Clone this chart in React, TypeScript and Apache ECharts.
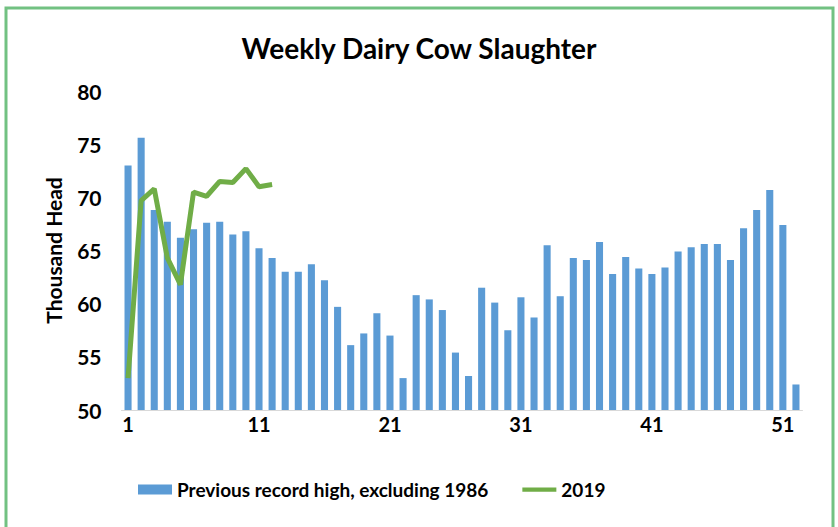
import React, { useEffect, useRef } from "react";
import * as echarts from "echarts";

const weeks: string[] = Array.from({ length: 52 }, (_, i) => String(i + 1));

const previousRecord: number[] = [
  73.0, 75.6, 68.8, 67.7, 66.2, 67.0, 67.6, 67.7, 66.5, 66.8,
  65.2, 64.3, 63.0, 63.0, 63.7, 62.2, 59.7, 56.1, 57.2, 59.1,
  57.0, 53.0, 60.8, 60.4, 59.4, 55.4, 53.2, 61.5, 60.1, 57.5,
  60.6, 58.7, 65.5, 60.7, 64.3, 64.1, 65.8, 62.8, 64.4, 63.3,
  62.8, 63.4, 64.9, 65.3, 65.6, 65.6, 64.1, 67.1, 68.8, 70.7,
  67.4, 52.4,
];

const y2019: number[] = [
  53.0, 69.7, 70.8, 64.3, 61.8, 70.5, 70.1, 71.5, 71.4, 72.7, 71.0, 71.2,
];

const yTicks = { min: 50, max: 80, interval: 5 };

const FONT = "Lato, 'Open Sans', sans-serif";

export default function App() {
  const ref = useRef<HTMLDivElement>(null);

  useEffect(() => {
    if (!ref.current) return;
    const chart = echarts.init(ref.current, undefined, { renderer: "svg" });
    chart.setOption({
      animation: false,
      backgroundColor: "#ffffff",
      title: {
        text: "Weekly Dairy Cow Slaughter",
        left: "center",
        top: 29,
        textStyle: {
          fontFamily: FONT,
          fontSize: 28,
          fontWeight: "bold",
          color: "#000000",
        },
      },
      grid: {
        left: 121.5,
        right: 35.5,
        top: 91,
        bottom: 117,
      },
      legend: {
        bottom: 23,
        left: 133,
        itemWidth: 34,
        itemHeight: 10,
        itemGap: 34,
        textStyle: {
          fontFamily: FONT,
          fontSize: 19,
          fontWeight: "bold",
          color: "#000000",
        },
        data: [
          { name: "Previous record high, excluding 1986", icon: "rect" },
          {
            name: "2019",
            icon: "path://M0,0H40V5H0Z",
            itemStyle: { color: "#70AD47" },
          },
        ],
      },
      xAxis: {
        type: "category",
        data: weeks,
        boundaryGap: true,
        axisLine: { show: true, lineStyle: { color: "#d9d9d9", width: 1 } },
        axisTick: { show: false },
        axisLabel: {
          interval: 9,
          margin: 4,
          fontFamily: FONT,
          fontSize: 20,
          fontWeight: "bold",
          color: "#000000",
        },
        splitLine: { show: false },
      },
      yAxis: {
        type: "value",
        min: yTicks.min,
        max: yTicks.max,
        interval: yTicks.interval,
        name: "Thousand Head",
        nameLocation: "middle",
        nameRotate: 90,
        nameGap: 58,
        nameTextStyle: {
          fontFamily: FONT,
          fontSize: 21,
          fontWeight: "bold",
          color: "#000000",
        },
        axisLine: { show: false },
        axisTick: { show: false },
        splitLine: { show: false },
        axisLabel: {
          margin: 20,
          fontFamily: FONT,
          fontSize: 21,
          fontWeight: "bold",
          color: "#000000",
        },
      },
      series: [
        {
          name: "Previous record high, excluding 1986",
          type: "bar",
          data: previousRecord,
          barWidth: "54%",
          itemStyle: { color: "#5B9BD5" },
        },
        {
          name: "2019",
          type: "line",
          data: y2019,
          symbol: "none",
          showSymbol: false,
          lineStyle: { color: "#70AD47", width: 5 },
          itemStyle: { color: "#70AD47" },
          z: 5,
        },
      ],
      graphic: [
        {
          type: "rect",
          shape: { x: 6, y: 8, width: 827, height: 530 },
          style: { fill: "none", stroke: "#72C182", lineWidth: 3 },
          silent: true,
          z: 100,
        },
      ],
    });
    return () => chart.dispose();
  }, []);

  return (
    <div
      ref={ref}
      style={{ position: "fixed", left: 0, top: 0, width: 838, height: 527 }}
    />
  );
}
